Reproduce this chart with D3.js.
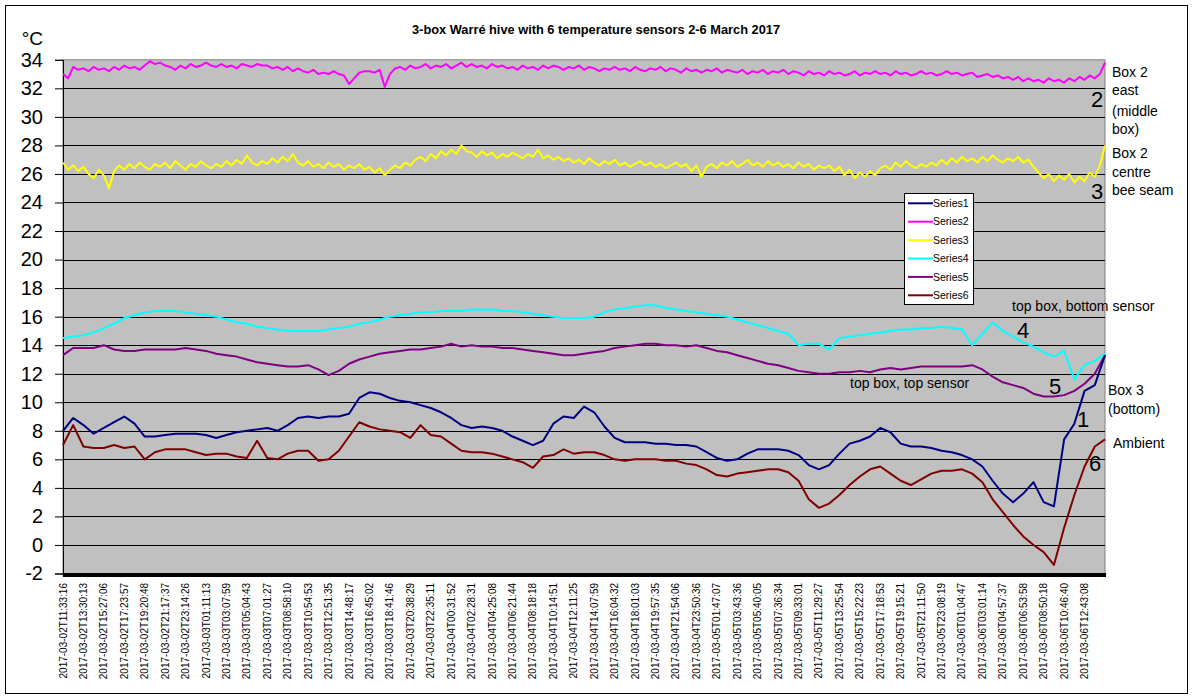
<!DOCTYPE html>
<html><head><meta charset="utf-8">
<script src="https://cdn.jsdelivr.net/npm/d3@7"></script>
<style>body{margin:0;background:#fff}svg{display:block;font-family:Arial,"Liberation Sans",sans-serif}</style>
</head><body><svg id="c" width="1195" height="700"></svg>
<script>
const title = "3-box Warré hive with 6 temperature sensors 2-6 March 2017";
const xLabels = ["2017-03-02T11:33:16","2017-03-02T13:30:13","2017-03-02T15:27:06","2017-03-02T17:23:57","2017-03-02T19:20:48","2017-03-02T21:17:37","2017-03-02T23:14:26","2017-03-03T01:11:13","2017-03-03T03:07:59","2017-03-03T05:04:43","2017-03-03T07:01:27","2017-03-03T08:58:10","2017-03-03T10:54:53","2017-03-03T12:51:35","2017-03-03T14:48:17","2017-03-03T16:45:02","2017-03-03T18:41:46","2017-03-03T20:38:29","2017-03-03T22:35:11","2017-03-04T00:31:52","2017-03-04T02:28:31","2017-03-04T04:25:08","2017-03-04T06:21:44","2017-03-04T08:18:18","2017-03-04T10:14:51","2017-03-04T12:11:25","2017-03-04T14:07:59","2017-03-04T16:04:32","2017-03-04T18:01:03","2017-03-04T19:57:35","2017-03-04T21:54:06","2017-03-04T23:50:36","2017-03-05T01:47:07","2017-03-05T03:43:36","2017-03-05T05:40:05","2017-03-05T07:36:34","2017-03-05T09:33:01","2017-03-05T11:29:27","2017-03-05T13:25:54","2017-03-05T15:22:23","2017-03-05T17:18:53","2017-03-05T19:15:21","2017-03-05T21:11:50","2017-03-05T23:08:19","2017-03-06T01:04:47","2017-03-06T03:01:14","2017-03-06T04:57:37","2017-03-06T06:53:58","2017-03-06T08:50:18","2017-03-06T10:46:40","2017-03-06T12:43:08"];
const yTicks = [-2,0,2,4,6,8,10,12,14,16,18,20,22,24,26,28,30,32,34];
const seriesNames = ["Series1","Series2","Series3","Series4","Series5","Series6"];
const seriesColors = ["#000080","#ff00ff","#ffff00","#00ffff","#800080","#800000"];

// Series1: Box 3 (bottom)
const s1 = [8.0,8.9,8.4,7.8,8.2,8.6,9.0,8.5,7.6,7.6,7.7,7.8,7.8,7.8,7.7,7.5,7.7,7.9,8.0,8.1,8.2,8.0,8.4,8.9,9.0,8.9,9.0,9.0,9.2,10.3,10.7,10.6,10.3,10.1,10.0,9.8,9.6,9.3,8.9,8.4,8.2,8.3,8.2,8.0,7.6,7.3,7.0,7.3,8.5,9.0,8.9,9.7,9.3,8.3,7.5,7.2,7.2,7.2,7.1,7.1,7.0,7.0,6.9,6.5,6.1,5.9,6.0,6.4,6.7,6.7,6.7,6.6,6.3,5.6,5.3,5.6,6.4,7.1,7.3,7.6,8.2,7.9,7.1,6.9,6.9,6.8,6.6,6.5,6.3,6.0,5.5,4.5,3.6,3.0,3.6,4.4,3.0,2.7,7.4,8.5,10.8,11.2,13.3];
// Series2: Box 2 east
const s2 = [33.0,32.7,33.5,33.3,33.4,33.2,33.5,33.3,33.4,33.2,
33.5,33.3,33.6,33.4,33.5,33.3,33.6,33.9,33.7,33.8,
33.6,33.5,33.3,33.6,33.4,33.7,33.5,33.6,33.8,33.6,
33.5,33.7,33.5,33.6,33.4,33.7,33.6,33.5,33.7,33.6,
33.6,33.4,33.5,33.3,33.5,33.2,33.4,33.2,33.1,33.3,
33.0,33.1,33.0,33.2,33.0,32.9,32.3,32.7,33.1,33.2,
33.2,33.1,33.3,32.1,33.0,33.4,33.5,33.3,33.6,33.4,
33.5,33.7,33.4,33.6,33.5,33.7,33.4,33.6,33.8,33.5,
33.7,33.5,33.6,33.4,33.7,33.5,33.6,33.4,33.5,33.3,
33.6,33.4,33.5,33.3,33.6,33.4,33.6,33.5,33.3,33.5,
33.4,33.6,33.3,33.5,33.4,33.2,33.4,33.3,33.5,33.3,
33.4,33.2,33.5,33.3,33.2,33.4,33.3,33.5,33.2,33.4,
33.3,33.1,33.4,33.2,33.3,33.1,33.3,33.2,33.4,33.1,
33.3,33.2,33.1,33.3,33.0,33.2,33.1,33.3,33.0,33.2,
33.1,33.3,33.0,33.2,33.1,32.9,33.2,33.0,33.1,32.9,
33.2,33.0,33.1,32.9,33.0,33.2,32.9,33.1,33.0,33.2,
33.0,33.1,32.9,33.2,33.0,33.1,32.9,33.0,33.2,33.0,
33.1,32.9,33.0,33.2,33.0,33.1,32.9,33.0,33.1,32.8,
32.9,33.0,32.8,32.9,32.7,32.8,32.6,32.8,32.5,32.7,
32.5,32.6,32.4,32.7,32.5,32.6,32.4,32.7,32.5,32.8,
32.6,32.9,32.7,33.0,33.8];
// Series3: Box 2 centre bee seam
const s3 = [26.8,26.3,26.6,26.2,26.5,26.0,25.7,26.3,25.9,25.0,
26.2,26.6,26.3,26.7,26.4,26.8,26.5,26.3,26.7,26.5,
26.8,26.4,26.9,26.6,26.3,26.7,26.5,26.9,26.6,26.4,
26.7,26.5,26.9,26.6,27.0,26.7,27.3,26.8,26.6,26.9,
26.7,27.1,26.8,27.2,26.9,27.4,26.8,26.6,26.9,26.5,
26.7,26.4,26.8,26.5,26.7,26.3,26.6,26.4,26.7,26.3,
26.5,26.1,26.4,25.9,26.3,26.6,26.4,26.8,26.6,27.0,
27.2,26.9,27.4,27.1,27.6,27.3,27.7,27.4,28.0,27.6,
27.5,27.2,27.6,27.3,27.5,27.1,27.4,27.2,27.5,27.3,
27.1,27.4,27.2,27.7,27.1,27.3,27.0,27.2,26.9,27.1,
26.8,27.0,26.7,27.1,26.8,26.6,26.9,26.7,27.0,26.6,
26.8,26.5,26.7,26.9,26.6,26.8,26.5,26.7,26.4,26.6,
26.8,26.5,26.7,26.2,26.6,25.8,26.5,26.7,26.4,26.8,
26.6,26.9,26.5,26.7,27.0,26.6,26.8,26.5,26.9,26.6,
26.8,26.5,26.7,26.4,26.8,26.5,26.7,26.3,26.6,26.4,
26.6,26.2,26.5,25.9,26.3,25.7,26.1,25.8,26.2,25.9,
26.4,26.6,26.3,26.8,26.5,26.9,26.6,26.4,26.7,26.5,
26.8,26.6,27.0,26.7,27.1,26.8,27.2,26.9,27.1,26.8,
27.2,26.9,27.3,27.0,26.8,27.1,26.9,27.2,26.8,27.0,
26.5,26.1,25.7,26.0,25.5,25.9,25.6,26.0,25.4,25.8,
25.5,26.1,25.8,26.6,28.0];
// Series4: top box, bottom sensor
const s4 = [14.5,14.6,14.7,14.9,15.2,15.5,15.9,16.1,16.3,16.4,16.4,16.4,16.3,16.2,16.1,16.0,15.8,15.6,15.5,15.3,15.2,15.1,15.0,15.0,15.0,15.0,15.1,15.2,15.3,15.5,15.6,15.8,16.0,16.1,16.2,16.3,16.3,16.4,16.4,16.4,16.5,16.5,16.5,16.4,16.4,16.3,16.2,16.1,16.0,15.9,15.9,15.9,16.0,16.3,16.5,16.6,16.7,16.8,16.8,16.6,16.5,16.4,16.3,16.2,16.1,16.0,15.8,15.6,15.4,15.2,15.0,14.8,14.0,14.1,14.1,13.7,14.5,14.6,14.7,14.8,14.9,15.0,15.1,15.1,15.2,15.2,15.3,15.2,15.1,14.0,14.8,15.6,15.0,14.6,14.2,13.9,13.5,13.2,13.6,11.6,12.6,12.9,13.4];
// Series5: top box, top sensor
const s5 = [13.3,13.8,13.8,13.8,14.0,13.7,13.6,13.6,13.7,13.7,13.7,13.7,13.8,13.7,13.6,13.4,13.3,13.2,13.0,12.8,12.7,12.6,12.5,12.5,12.6,12.3,11.9,12.2,12.7,13.0,13.2,13.4,13.5,13.6,13.7,13.7,13.8,13.9,14.1,13.9,14.0,13.9,13.9,13.8,13.8,13.7,13.6,13.5,13.4,13.3,13.3,13.4,13.5,13.6,13.8,13.9,14.0,14.1,14.1,14.0,14.0,13.9,14.0,13.8,13.6,13.5,13.3,13.1,12.9,12.7,12.6,12.4,12.2,12.1,12.0,12.0,12.1,12.1,12.2,12.1,12.3,12.4,12.3,12.4,12.5,12.5,12.5,12.5,12.5,12.6,12.3,11.8,11.4,11.2,11.0,10.6,10.4,10.4,10.5,10.8,11.3,12.0,13.3];
// Series6: Ambient
const s6 = [7.0,8.4,6.9,6.8,6.8,7.0,6.8,6.9,6.0,6.5,6.7,6.7,6.7,6.5,6.3,6.4,6.4,6.2,6.1,7.3,6.1,6.0,6.4,6.6,6.6,5.9,6.0,6.6,7.6,8.6,8.3,8.1,8.0,7.9,7.5,8.4,7.7,7.6,7.1,6.6,6.5,6.5,6.4,6.2,6.0,5.8,5.4,6.2,6.3,6.7,6.4,6.5,6.5,6.3,6.0,5.9,6.0,6.0,6.0,5.9,5.9,5.7,5.6,5.3,4.9,4.8,5.0,5.1,5.2,5.3,5.3,5.1,4.5,3.2,2.6,2.9,3.5,4.2,4.8,5.3,5.5,5.0,4.5,4.2,4.6,5.0,5.2,5.2,5.3,5.0,4.4,3.2,2.3,1.4,0.6,0.0,-0.5,-1.4,1.2,3.5,5.5,6.9,7.4];

const annotations = [
  {t:"Box 2", x:1112, y:72, s:14, a:"start"},
  {t:"east", x:1112, y:90, s:14, a:"start"},
  {t:"(middle", x:1112, y:111, s:14, a:"start"},
  {t:"box)", x:1112, y:129, s:14, a:"start"},
  {t:"Box 2", x:1112, y:153, s:14, a:"start"},
  {t:"centre", x:1112, y:172, s:14, a:"start"},
  {t:"bee seam", x:1112, y:190, s:14, a:"start"},
  {t:"top box, bottom sensor", x:1012, y:306, s:14, a:"start"},
  {t:"top box, top sensor", x:850, y:383, s:14, a:"start"},
  {t:"Box 3", x:1108, y:390, s:14, a:"start"},
  {t:"(bottom)", x:1108, y:409, s:14, a:"start"},
  {t:"Ambient", x:1113, y:443, s:14, a:"start"},
  {t:"2", x:1097, y:99, s:22, a:"middle"},
  {t:"3", x:1097, y:191, s:22, a:"middle"},
  {t:"4", x:1023, y:330, s:22, a:"middle"},
  {t:"5", x:1055, y:386, s:22, a:"middle"},
  {t:"1", x:1083, y:419, s:22, a:"middle"},
  {t:"6", x:1095, y:463, s:22, a:"middle"}
];

const svg = d3.select("#c");
const L = 63, R = 1105;
const x = d3.scaleLinear().domain([0, xLabels.length]).range([L, R]);
const y = d3.scaleLinear().domain([-2, 34]).range([573.5, 59.8]);

svg.append("rect").attr("x",5.5).attr("y",5.5).attr("width",1182).attr("height",688)
  .attr("fill","#fff").attr("stroke","#000").attr("stroke-width",1);

svg.append("text").attr("x",596).attr("y",34).attr("text-anchor","middle")
  .attr("font-size",13).attr("font-weight","bold").attr("textLength",368).attr("lengthAdjust","spacingAndGlyphs").text(title);

// plot area
svg.append("rect").attr("x",L).attr("y",y(34)).attr("width",R-L).attr("height",y(-2)-y(34))
  .attr("fill","#c0c0c0").attr("stroke","#808080").attr("stroke-width",1);

// gridlines
svg.append("g").selectAll("line").data(yTicks.filter(d=>d>-2 && d<34)).join("line")
  .attr("x1",L).attr("x2",R).attr("y1",d=>Math.round(y(d))+0.5).attr("y2",d=>Math.round(y(d))+0.5)
  .attr("stroke","#000").attr("stroke-width",1);

// y axis
const ya = svg.append("g").attr("transform",`translate(${L},0)`)
  .call(d3.axisLeft(y).tickValues(yTicks).tickSize(8).tickPadding(12).tickFormat(d=>d));
ya.select(".domain").attr("stroke","#000");
ya.selectAll("text").attr("font-size",20).attr("font-family","Arial, 'Liberation Sans', sans-serif").attr("fill","#000");
ya.selectAll("line").attr("stroke","#000");

svg.append("text").attr("x",43).attr("y",45).attr("text-anchor","end").attr("font-size",19).text("°C");

// series lines
const allSeries = [s1,s2,s3,s4,s5,s6];
const line = d3.line().x(d=>x(d[0])).y(d=>y(d[1]));
const drawOrder = [5,4,3,2,1,0];
drawOrder.forEach(si=>{
  const arr = allSeries[si];
  const n = arr.length;
  const pts = arr.map((v,i)=>[i*xLabels.length/(n-1), v]);
  svg.append("path").attr("d",line(pts)).attr("fill","none")
    .attr("stroke",seriesColors[si]).attr("stroke-width",2).attr("stroke-linejoin","round");
});

// thick bottom axis
svg.append("line").attr("x1",L).attr("x2",R+1).attr("y1",575).attr("y2",575).attr("stroke","#000").attr("stroke-width",4);

// x labels
svg.append("g").selectAll("text").data(xLabels).join("text")
  .attr("transform",(d,i)=>`translate(${x(i)},583) rotate(-90)`)
  .attr("text-anchor","end").attr("dy","0.35em").attr("font-size",10).text(d=>d);

// legend
const lg = svg.append("g");
lg.append("rect").attr("x",904.5).attr("y",193.5).attr("width",69).attr("height",111).attr("fill","#fff").attr("stroke","#000");
seriesNames.forEach((nm,i)=>{
  const yy = 203.3 + i*18.4;
  lg.append("line").attr("x1",908).attr("x2",933).attr("y1",yy).attr("y2",yy).attr("stroke",seriesColors[i]).attr("stroke-width",2);
  lg.append("text").attr("x",933).attr("y",yy).attr("dy","0.35em").attr("font-size",10.5).text(nm);
});

// annotations
svg.append("g").selectAll("text").data(annotations).join("text")
  .attr("x",d=>d.x).attr("y",d=>d.y).attr("dy","0.35em").attr("text-anchor",d=>d.a)
  .attr("font-size",d=>d.s).text(d=>d.t);
</script></body></html>
